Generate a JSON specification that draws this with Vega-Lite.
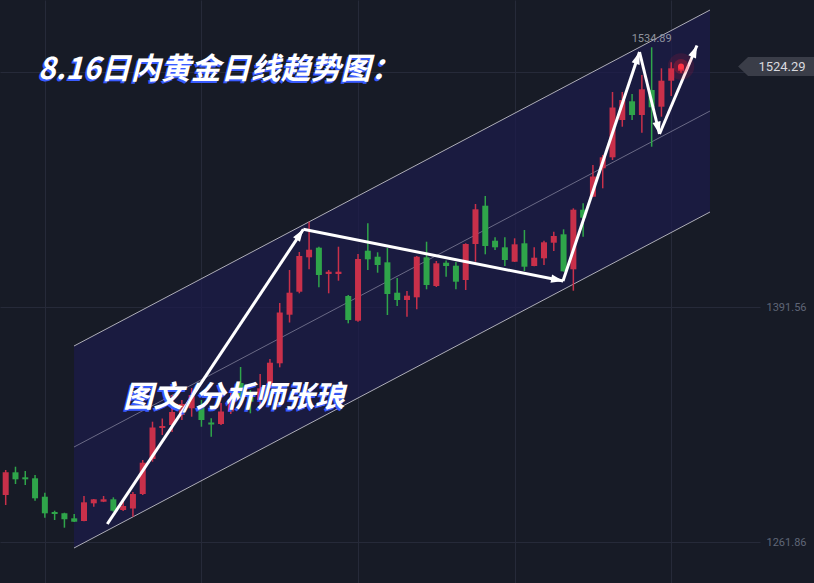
{
  "$schema": "https://vega.github.io/schema/vega-lite/v6.json",
  "width": 760,
  "height": 583,
  "autosize": {"type": "none"},
  "padding": {"left": 0, "top": 0, "right": 54, "bottom": 0},
  "background": "#171b26",
  "config": {
    "view": {"stroke": null},
    "font": "Roboto",
    "axis": {"grid": false, "labels": false, "ticks": false, "domain": false, "titleOpacity": 0, "titleFontSize": 0}
  },
  "datasets": {
    "channel": [
      {"x": 6.98, "upper": 1370.04, "lower": 1258.55},
      {"x": 71.96, "upper": 1555.47, "lower": 1443.99}
    ],
    "channelLines": [
      {"line": "upper", "x": 6.98, "p": 1370.04, "x2": 71.96, "p2": 1555.47},
      {"line": "middle", "x": 6.98, "p": 1314.29, "x2": 71.96, "p2": 1499.73},
      {"line": "lower", "x": 6.98, "p": 1258.55, "x2": 71.96, "p2": 1443.99}
    ],
    "candles": [
      {"i": 0, "o": 1287.80, "h": 1301.60, "l": 1282.28, "c": 1300.33},
      {"i": 1, "o": 1300.33, "h": 1303.42, "l": 1293.87, "c": 1296.47},
      {"i": 2, "o": 1297.57, "h": 1301.05, "l": 1293.32, "c": 1296.47},
      {"i": 3, "o": 1297.02, "h": 1298.84, "l": 1284.66, "c": 1285.98},
      {"i": 4, "o": 1286.86, "h": 1289.07, "l": 1275.27, "c": 1277.70},
      {"i": 5, "o": 1278.42, "h": 1279.14, "l": 1274.01, "c": 1277.32},
      {"i": 6, "o": 1277.70, "h": 1278.03, "l": 1269.76, "c": 1274.39},
      {"i": 7, "o": 1274.94, "h": 1277.32, "l": 1272.90, "c": 1273.07},
      {"i": 8, "o": 1273.45, "h": 1287.25, "l": 1273.30, "c": 1283.77},
      {"i": 9, "o": 1283.22, "h": 1285.60, "l": 1281.34, "c": 1285.43},
      {"i": 10, "o": 1284.11, "h": 1287.25, "l": 1283.90, "c": 1285.43},
      {"i": 11, "o": 1285.43, "h": 1286.53, "l": 1278.59, "c": 1279.14},
      {"i": 12, "o": 1279.52, "h": 1285.04, "l": 1278.97, "c": 1281.73},
      {"i": 13, "o": 1280.35, "h": 1289.46, "l": 1275.83, "c": 1288.35},
      {"i": 14, "o": 1288.35, "h": 1307.12, "l": 1287.80, "c": 1305.63},
      {"i": 15, "o": 1307.67, "h": 1328.26, "l": 1306.18, "c": 1325.06},
      {"i": 16, "o": 1324.78, "h": 1330.02, "l": 1320.92, "c": 1325.88},
      {"i": 17, "o": 1326.44, "h": 1342.99, "l": 1322.57, "c": 1333.61},
      {"i": 18, "o": 1331.95, "h": 1340.23, "l": 1329.20, "c": 1338.03},
      {"i": 19, "o": 1335.65, "h": 1346.86, "l": 1331.02, "c": 1342.99},
      {"i": 20, "o": 1337.47, "h": 1340.23, "l": 1325.50, "c": 1329.20},
      {"i": 21, "o": 1327.82, "h": 1330.13, "l": 1319.98, "c": 1326.71},
      {"i": 22, "o": 1326.99, "h": 1338.58, "l": 1326.44, "c": 1333.89},
      {"i": 23, "o": 1333.89, "h": 1346.86, "l": 1332.51, "c": 1340.79},
      {"i": 24, "o": 1349.62, "h": 1358.45, "l": 1337.47, "c": 1341.89},
      {"i": 25, "o": 1342.61, "h": 1345.75, "l": 1332.89, "c": 1339.30},
      {"i": 26, "o": 1340.23, "h": 1354.58, "l": 1337.47, "c": 1346.69},
      {"i": 27, "o": 1347.57, "h": 1362.86, "l": 1346.86, "c": 1360.82},
      {"i": 28, "o": 1360.49, "h": 1393.77, "l": 1358.28, "c": 1388.52},
      {"i": 29, "o": 1387.31, "h": 1411.98, "l": 1383.01, "c": 1399.45},
      {"i": 30, "o": 1400.00, "h": 1421.91, "l": 1399.12, "c": 1419.71},
      {"i": 31, "o": 1418.99, "h": 1438.64, "l": 1412.37, "c": 1423.18},
      {"i": 32, "o": 1424.29, "h": 1424.84, "l": 1402.43, "c": 1409.22},
      {"i": 33, "o": 1409.77, "h": 1411.98, "l": 1399.12, "c": 1411.04},
      {"i": 34, "o": 1409.77, "h": 1424.84, "l": 1406.08, "c": 1411.04},
      {"i": 35, "o": 1397.63, "h": 1398.18, "l": 1382.56, "c": 1384.39},
      {"i": 36, "o": 1384.00, "h": 1420.81, "l": 1383.45, "c": 1418.05},
      {"i": 37, "o": 1422.63, "h": 1437.75, "l": 1411.98, "c": 1417.89},
      {"i": 38, "o": 1419.32, "h": 1421.75, "l": 1410.49, "c": 1414.74},
      {"i": 39, "o": 1416.23, "h": 1424.12, "l": 1387.14, "c": 1398.73},
      {"i": 40, "o": 1399.45, "h": 1407.57, "l": 1392.11, "c": 1395.42},
      {"i": 41, "o": 1395.42, "h": 1400.39, "l": 1386.21, "c": 1397.80},
      {"i": 42, "o": 1396.91, "h": 1419.71, "l": 1390.29, "c": 1419.32},
      {"i": 43, "o": 1418.99, "h": 1427.60, "l": 1401.33, "c": 1403.70},
      {"i": 44, "o": 1403.15, "h": 1416.95, "l": 1402.60, "c": 1415.68},
      {"i": 45, "o": 1416.01, "h": 1417.22, "l": 1408.28, "c": 1414.19},
      {"i": 46, "o": 1414.35, "h": 1416.40, "l": 1401.33, "c": 1405.52},
      {"i": 47, "o": 1406.46, "h": 1426.72, "l": 1400.94, "c": 1426.33},
      {"i": 48, "o": 1426.33, "h": 1448.41, "l": 1416.56, "c": 1445.48},
      {"i": 49, "o": 1447.47, "h": 1452.82, "l": 1420.65, "c": 1425.23},
      {"i": 50, "o": 1428.15, "h": 1430.03, "l": 1423.02, "c": 1424.51},
      {"i": 51, "o": 1424.51, "h": 1430.03, "l": 1414.19, "c": 1417.50},
      {"i": 52, "o": 1416.56, "h": 1429.48, "l": 1416.40, "c": 1426.16},
      {"i": 53, "o": 1426.72, "h": 1434.06, "l": 1411.43, "c": 1413.80},
      {"i": 54, "o": 1414.19, "h": 1424.51, "l": 1414.00, "c": 1418.77},
      {"i": 55, "o": 1418.44, "h": 1428.15, "l": 1414.74, "c": 1427.27},
      {"i": 56, "o": 1427.05, "h": 1433.12, "l": 1422.47, "c": 1430.74},
      {"i": 57, "o": 1431.68, "h": 1434.44, "l": 1411.10, "c": 1411.26},
      {"i": 58, "o": 1412.37, "h": 1446.03, "l": 1400.56, "c": 1445.26},
      {"i": 59, "o": 1445.26, "h": 1448.79, "l": 1430.36, "c": 1440.84},
      {"i": 60, "o": 1452.43, "h": 1469.93, "l": 1452.30, "c": 1463.58},
      {"i": 61, "o": 1468.11, "h": 1475.45, "l": 1457.07, "c": 1474.18},
      {"i": 62, "o": 1474.18, "h": 1510.22, "l": 1472.69, "c": 1501.66},
      {"i": 63, "o": 1494.77, "h": 1510.22, "l": 1491.07, "c": 1505.80},
      {"i": 64, "o": 1505.09, "h": 1509.11, "l": 1494.77, "c": 1497.52},
      {"i": 65, "o": 1497.52, "h": 1519.60, "l": 1487.76, "c": 1511.71},
      {"i": 66, "o": 1511.32, "h": 1534.89, "l": 1480.03, "c": 1501.78},
      {"i": 67, "o": 1502.11, "h": 1523.30, "l": 1496.59, "c": 1516.46},
      {"i": 68, "o": 1516.46, "h": 1526.61, "l": 1508.01, "c": 1523.30},
      {"i": 69, "o": 1522.00, "h": 1525.50, "l": 1520.87, "c": 1524.29}
    ],
    "arrows": [
      {"id": 1, "x0": 10.38, "p0": 1271.80, "x1": 30.41, "p1": 1434.44},
      {"id": 2, "x0": 30.41, "p0": 1434.44, "x1": 56.97, "p1": 1405.91},
      {"id": 3, "x0": 56.94, "p0": 1405.91, "x1": 64.76, "p1": 1532.29},
      {"id": 4, "x0": 64.76, "p0": 1532.29, "x1": 66.80, "p1": 1487.04},
      {"id": 5, "x0": 66.80, "p0": 1487.04, "x1": 70.63, "p1": 1535.88}
    ],
    "last": [{"i": 69, "p": 1524.29}],
    "peak": [{"i": 66, "p": 1534.89}],
    "pricebox": [
      {"x": 74.83, "top": 1524.29, "bot": 1524.29},
      {"x": 75.85, "top": 1529.54, "bot": 1519.05},
      {"x": 82.6, "top": 1529.54, "bot": 1519.05}
    ],
    "pricelabel": [{"x": 79.32, "p": 1524.29}],
    "notes": [
      {"text": "8.16日内黄金日线趋势图：", "x": 3.3, "p": 1522.36, "size": "title"},
      {"text": "图文/分析师张琅", "x": 12.0, "p": 1341.34, "size": "sub"}
    ]
  },
  "layer": [
    {
      "data": {"name": "channel"},
      "mark": {"type": "area", "color": "#1c1b4c", "opacity": 0.7},
      "encoding": {
        "x": {"field": "x", "type": "quantitative", "scale": {"domain": [-0.582, 77.07], "nice": false, "zero": false, "padding": 0},
              "axis": {"orient": "bottom", "values": [4, 20, 36, 52, 68], "grid": true, "gridColor": "#262a39", "gridWidth": 1, "labels": false, "ticks": false, "domain": false, "title": null}},
        "y": {"field": "upper", "type": "quantitative", "scale": {"domain": [1239.24, 1561.0], "nice": false, "zero": false, "padding": 0},
              "axis": {"orient": "right", "values": [1261.86, 1391.56, 1521.27], "format": ".2f", "grid": true, "gridColor": "#262a39", "gridWidth": 1, "labels": true, "ticks": false, "domain": false, "labelColor": "#5f6677", "labelFontSize": 11, "labelFont": "Roboto", "labelPadding": 6, "title": null}},
        "y2": {"field": "lower"}
      }
    },
    {
      "data": {"name": "channelLines"},
      "mark": {"type": "rule", "strokeWidth": 1},
      "encoding": {
        "x": {"field": "x", "type": "quantitative", "scale": {"domain": [-0.582, 77.07], "nice": false, "zero": false, "padding": 0}},
        "x2": {"field": "x2"},
        "y": {"field": "p", "type": "quantitative", "scale": {"domain": [1239.24, 1561.0], "nice": false, "zero": false, "padding": 0}},
        "y2": {"field": "p2"},
        "color": {"condition": {"test": "datum.line === 'middle'", "value": "#6a6a86"}, "value": "#aeaeb8"}
      }
    },
    {
      "data": {"name": "candles"},
      "mark": {"type": "rule", "strokeWidth": 1.5},
      "encoding": {
        "x": {"field": "i", "type": "quantitative", "scale": {"domain": [-0.582, 77.07], "nice": false, "zero": false, "padding": 0}},
        "y": {"field": "l", "type": "quantitative", "scale": {"domain": [1239.24, 1561.0], "nice": false, "zero": false, "padding": 0}},
        "y2": {"field": "h"},
        "color": {"condition": {"test": "datum.c >= datum.o", "value": "#c9304a"}, "value": "#2fa54a"}
      }
    },
    {
      "data": {"name": "candles"},
      "mark": {"type": "bar", "size": 6},
      "encoding": {
        "x": {"field": "i", "type": "quantitative", "scale": {"domain": [-0.582, 77.07], "nice": false, "zero": false, "padding": 0}},
        "y": {"field": "o", "type": "quantitative", "scale": {"domain": [1239.24, 1561.0], "nice": false, "zero": false, "padding": 0}},
        "y2": {"field": "c"},
        "color": {"condition": {"test": "datum.c >= datum.o", "value": "#c9304a"}, "value": "#2fa54a"}
      }
    },
    {
      "data": {"name": "arrows"},
      "mark": {"type": "rule", "strokeWidth": 3, "color": "#ffffff", "strokeCap": "butt"},
      "encoding": {
        "x": {"field": "x0", "type": "quantitative", "scale": {"domain": [-0.582, 77.07], "nice": false, "zero": false, "padding": 0}},
        "x2": {"field": "x1"},
        "y": {"field": "p0", "type": "quantitative", "scale": {"domain": [1239.24, 1561.0], "nice": false, "zero": false, "padding": 0}},
        "y2": {"field": "p1"}
      }
    },
    {
      "data": {"name": "arrows"},
      "transform": [{"calculate": "atan2((datum.x1 - datum.x0) * 9.787, (datum.p1 - datum.p0) / 0.5519) * 180 / PI", "as": "ang"}],
      "mark": {"type": "point", "filled": true, "color": "#ffffff", "opacity": 1, "shape": "M0,0L0.34,1L-0.34,1Z", "size": 600, "strokeWidth": 0},
      "encoding": {
        "x": {"field": "x1", "type": "quantitative", "scale": {"domain": [-0.582, 77.07], "nice": false, "zero": false, "padding": 0}},
        "y": {"field": "p1", "type": "quantitative", "scale": {"domain": [1239.24, 1561.0], "nice": false, "zero": false, "padding": 0}},
        "angle": {"field": "ang", "type": "quantitative", "scale": null}
      }
    },
    {
      "data": {"name": "last"},
      "layer": [
        {"mark": {"type": "point", "filled": true, "shape": "circle", "color": "#ff1a2e", "opacity": 0.12, "size": 700, "strokeWidth": 0}},
        {"mark": {"type": "point", "filled": true, "shape": "circle", "color": "#ff1a2e", "opacity": 0.25, "size": 220, "strokeWidth": 0}},
        {"mark": {"type": "point", "filled": true, "shape": "circle", "color": "#ff3344", "opacity": 1, "size": 36, "strokeWidth": 0}}
      ],
      "encoding": {
        "x": {"field": "i", "type": "quantitative", "scale": {"domain": [-0.582, 77.07], "nice": false, "zero": false, "padding": 0}},
        "y": {"field": "p", "type": "quantitative", "scale": {"domain": [1239.24, 1561.0], "nice": false, "zero": false, "padding": 0}}
      }
    },
    {
      "data": {"name": "peak"},
      "mark": {"type": "text", "dy": -8, "fontSize": 11, "color": "#8f939e", "font": "Roboto", "align": "center", "baseline": "middle"},
      "encoding": {
        "x": {"field": "i", "type": "quantitative", "scale": {"domain": [-0.582, 77.07], "nice": false, "zero": false, "padding": 0}},
        "y": {"field": "p", "type": "quantitative", "scale": {"domain": [1239.24, 1561.0], "nice": false, "zero": false, "padding": 0}},
        "text": {"field": "p", "type": "quantitative", "format": ".2f"}
      }
    },
    {
      "data": {"name": "pricebox"},
      "mark": {"type": "area", "color": "#3a3d48", "opacity": 1},
      "encoding": {
        "x": {"field": "x", "type": "quantitative", "scale": {"domain": [-0.582, 77.07], "nice": false, "zero": false, "padding": 0}},
        "y": {"field": "top", "type": "quantitative", "scale": {"domain": [1239.24, 1561.0], "nice": false, "zero": false, "padding": 0}},
        "y2": {"field": "bot"}
      }
    },
    {
      "data": {"name": "pricelabel"},
      "mark": {"type": "text", "fontSize": 13, "color": "#d9dadf", "font": "Roboto", "align": "center", "baseline": "middle"},
      "encoding": {
        "x": {"field": "x", "type": "quantitative", "scale": {"domain": [-0.582, 77.07], "nice": false, "zero": false, "padding": 0}},
        "y": {"field": "p", "type": "quantitative", "scale": {"domain": [1239.24, 1561.0], "nice": false, "zero": false, "padding": 0}},
        "text": {"field": "p", "type": "quantitative", "format": ".2f"}
      }
    },
    {
      "data": {"name": "notes"},
      "mark": {"type": "text", "font": "Noto Sans CJK SC", "fontWeight": "bold", "fontStyle": "italic", "color": "#3a5cff", "align": "left", "baseline": "middle", "dx": -1.5, "dy": 1.5},
      "encoding": {
        "x": {"field": "x", "type": "quantitative", "scale": {"domain": [-0.582, 77.07], "nice": false, "zero": false, "padding": 0}},
        "y": {"field": "p", "type": "quantitative", "scale": {"domain": [1239.24, 1561.0], "nice": false, "zero": false, "padding": 0}},
        "text": {"field": "text"},
        "size": {"field": "size", "type": "nominal", "scale": {"domain": ["title", "sub"], "range": [30, 30]}, "legend": null}
      }
    },
    {
      "data": {"name": "notes"},
      "mark": {"type": "text", "font": "Noto Sans CJK SC", "fontWeight": "bold", "fontStyle": "italic", "color": "#ffffff", "align": "left", "baseline": "middle"},
      "encoding": {
        "x": {"field": "x", "type": "quantitative", "scale": {"domain": [-0.582, 77.07], "nice": false, "zero": false, "padding": 0}},
        "y": {"field": "p", "type": "quantitative", "scale": {"domain": [1239.24, 1561.0], "nice": false, "zero": false, "padding": 0}},
        "text": {"field": "text"},
        "size": {"field": "size", "type": "nominal", "scale": {"domain": ["title", "sub"], "range": [30, 30]}, "legend": null}
      }
    }
  ]
}
